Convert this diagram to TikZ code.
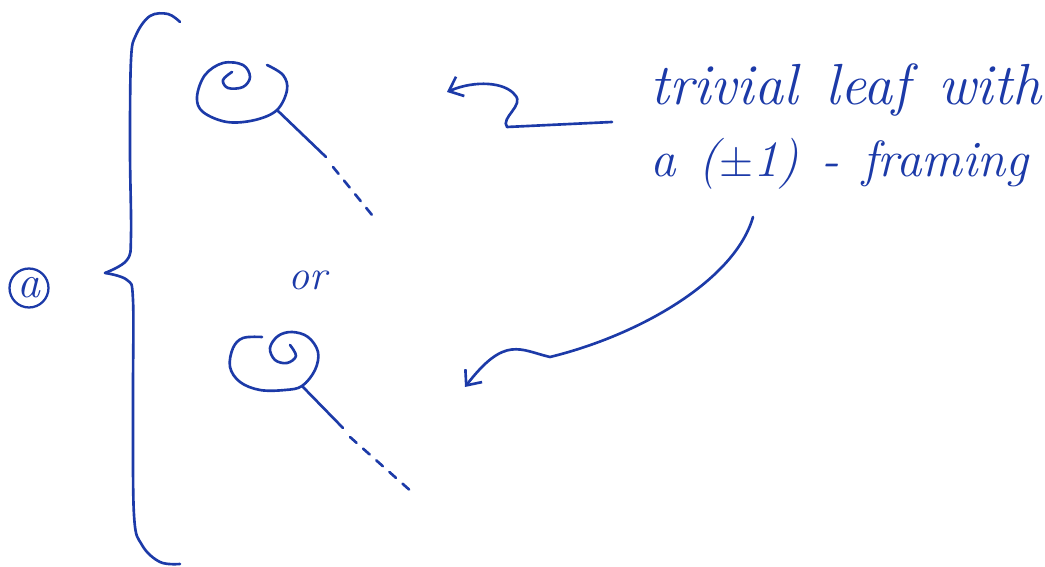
\documentclass[tikz,border=0pt]{standalone}
\usepackage{amsmath}
\usepackage{xcolor}
\usetikzlibrary{calc, positioning}
\usetikzlibrary{arrows.meta}
\definecolor{ink}{RGB}{28,58,168}
\tikzset{
  pen/.style={draw=ink,line width=1.5pt,line cap=round,line join=round},
  stemdash/.style={pen,dash pattern=on 5pt off 5pt},
  hand/.style={text=ink,font=\itshape\fontsize{31}{36}\selectfont,inner sep=0pt},
  barb/.style={pen,-{Straight Barb[length=7pt,width=12pt,line width=1.5pt]}}
}
\begin{document}
\begin{tikzpicture}[x=0.02cm,y=-0.02cm]
\useasboundingbox (0,0) rectangle (1045,567);
\coordinate (cusp) at (105,273);
\coordinate (leafA) at (277,110);
\coordinate (leafB) at (302,386);
\coordinate (tipA) at (447,92);
\coordinate (tipB) at (465,387);
\coordinate (startA) at (612,122);
\coordinate (startB) at (753,217);
\draw[pen] plot[smooth,tension=0.6] coordinates {(180,22) (168,14) (150,16) (136,35) (131,60) (130,150) (131,235) (127,260) (cusp)};
\draw[pen] plot[smooth,tension=0.6] coordinates {(cusp) (127,280) (133,300) (133,400) (134,515) (142,545) (160,562) (180,564)};
\node[circle,draw=ink,line width=1.3pt,text=ink,inner sep=0pt,minimum size=0.78cm,font=\itshape\fontsize{26}{28}\selectfont] (alab) at (29,288) {a};
\draw[pen] plot[smooth,tension=0.6] coordinates {(267,65) (283,75) (287,90) (leafA) (255,120) (227,122) (203,112) (197,97) (205,75) (223,63) (243,65) (250,77) (243,87) (228,88) (223,80) (232,72)};
\draw[pen] (leafA) -- (326,157);
\draw[stemdash] (333,167) -- (372,215);
\node[hand,font=\itshape\fontsize{24}{28}\selectfont] (orlab) at (308,280) {or};
\draw[pen] plot[smooth,tension=0.6] coordinates {(262,337) (243,338) (233,348) (230,367) (240,382) (260,390) (285,390) (leafB) (315,370) (318,352) (308,337) (292,332) (278,336) (270,348) (275,360) (287,363) (296,356) (290,345)};
\draw[pen] (leafB) -- (343,428);
\draw[stemdash] (350,437) -- (413,493);
\node[hand,anchor=base west,font=\itshape\fontsize{33}{38}\selectfont] (lab1) at (650,105) {trivial\hspace{0.16cm} leaf\hspace{0.16cm} with};
\node[hand,anchor=base west,font=\itshape\fontsize{29}{34}\selectfont] (lab2) at (650,177) {a\hspace{0.1cm} ($\pm$1)\hspace{0.1cm} -\hspace{0.1cm} framing};
\draw[barb] (startA) -- (507,127) .. controls (500,118) and (525,105) .. (515,95) .. controls (505,82) and (475,80) .. (tipA);
\draw[barb] (startB) .. controls (735,280) and (640,335) .. (550,357) .. controls (520,350) and (505,335) .. (tipB);
\end{tikzpicture}
\end{document}
